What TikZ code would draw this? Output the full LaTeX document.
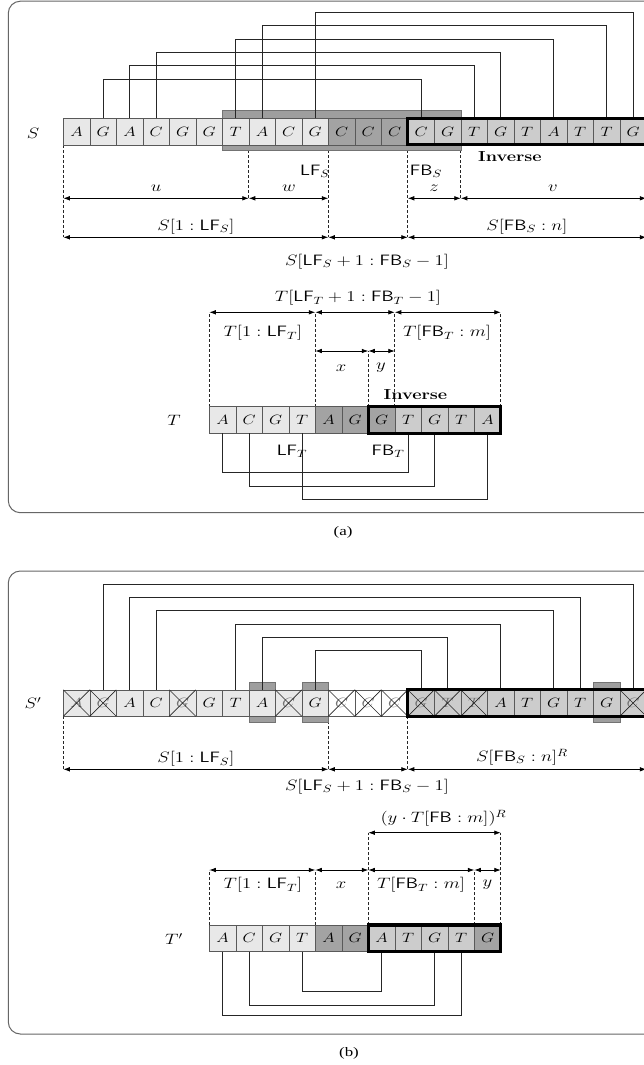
\RequirePackage{fix-cm}
\documentclass[tikz,border=0pt]{standalone}
\usepackage{fontspec}
\usepackage{graphicx}
\newfontfamily\capfont{Liberation Serif}
\usetikzlibrary{arrows.meta,fit}
\pgfdeclarelayer{bg}
\pgfsetlayers{bg,main}
\colorlet{cl}{black!9}
\colorlet{cm}{black!20}
\colorlet{cd}{black!36}
\colorlet{cwh}{white}
\colorlet{tn}{black}
\colorlet{tg}{black!55}
\newcommand{\hstr}[1]{\scalebox{1.25}[1]{#1}}
\begin{document}
\begin{tikzpicture}[x=1pt,y=-1pt,
  cellbase/.style={draw=black!65, line width=0.6pt, minimum width=26.5pt, minimum height=26.5pt, inner sep=0pt, outer sep=0pt, font=\fontsize{13.5}{13.5}\selectfont},
  conn/.style={draw=black!85, line width=0.75pt},
  xline/.style={draw=black!85, line width=0.6pt},
  guide/.style={draw=black!85, line width=0.65pt, dash pattern=on 3pt off 2pt},
  dim/.style={draw=black, line width=0.8pt, {Latex[length=6.5pt,width=4.6pt]}-{Latex[length=6.5pt,width=4.6pt]}},
  lab/.style={inner sep=0pt, font=\fontsize{15}{17}\selectfont},
  boldlab/.style={inner sep=0pt, font=\fontsize{14.5}{16}\selectfont\bfseries},
  caplab/.style={inner sep=0pt, font=\capfont\fontsize{13}{15}\selectfont},
  inv/.style={draw=black, line width=3.2pt, inner sep=0pt},
  frame/.style={draw=black!60, line width=1pt, rounded corners=12pt},
  shade/.style={draw=black!55, line width=0.6pt, fill=black!38},
]
\useasboundingbox (0,0) rectangle (644,1065);
\clip (0,0) rectangle (644,1065);
\begin{pgfonlayer}{bg}
  \fill[white] (0,0) rectangle (644,1065);
  \draw[frame] (8.3,1.2) rectangle (684,512.7);
  \draw[frame] (8.3,571) rectangle (684,1034);
\end{pgfonlayer}

% ================= panel (a) =================
\foreach \l/\c [count=\i] in {A/cl,G/cl,A/cl,C/cl,G/cl,G/cl,T/cl,A/cl,C/cl,G/cl,C/cd,C/cd,C/cd,C/cm,G/cm,T/cm,G/cm,T/cm,A/cm,T/cm,T/cm,G/cm}
  \node[cellbase, fill=\c] (s\i) at ({63.3+(\i-0.5)*26.5},131.55) {\hstr{$\l$}};

\foreach \l/\c [count=\i] in {A/cl,C/cl,G/cl,T/cl,A/cd,G/cd,G/cd,T/cm,G/cm,T/cm,A/cm}
  \node[cellbase, fill=\c] (t\i) at ({209.3+(\i-0.5)*26.5},419.95) {\hstr{$\l$}};

\coordinate (xa) at (s1.south west);
\coordinate (xb) at (s7.south east);
\coordinate (xc) at (s10.south east);
\coordinate (xd) at (s14.south west);
\coordinate (xe) at (s15.south east);
\coordinate (xf) at (s22.south east);
\coordinate (r1) at (0,198.3);
\coordinate (r2) at (0,237.3);
\coordinate (ovb) at (0,150.2);

\coordinate (ta) at (t1.north west);
\coordinate (tb) at (t4.north east);
\coordinate (tc) at (t6.north east);
\coordinate (td) at (t7.north east);
\coordinate (te) at (t11.north east);
\coordinate (rt1) at (0,312.3);
\coordinate (rt2) at (0,351);

\begin{pgfonlayer}{bg}
  \draw[guide] (xa) -- (xa |- r2);
  \draw[guide] (xb |- ovb) -- (xb |- r1);
  \draw[guide] (xc |- ovb) -- (xc |- r2);
  \draw[guide] (xd |- ovb) -- (xd |- r2);
  \draw[guide] (xe |- ovb) -- (xe |- r1);
  \draw[guide] (xf) -- (xf |- r2);
  \draw[shade] ([yshift=7.8pt]s7.north west) rectangle ([yshift=-5.4pt]s15.south east);
  \draw[guide] (ta) -- (ta |- rt1);
  \draw[guide] (tb) -- (tb |- rt1);
  \draw[guide] (tc) -- (tc |- rt2);
  \draw[guide] (td) -- (td |- rt1);
  \draw[guide] (te) -- (te |- rt1);
\end{pgfonlayer}

\foreach \a/\b/\h in {2/14/79, 3/16/65.7, 4/17/52.3, 7/19/39, 8/21/25.7, 10/22/12.3}
  \draw[conn] (s\a.north) -- (s\a.north |- 0,\h) -- (s\b.north |- 0,\h) -- (s\b.north);
\foreach \a/\b/\h in {1/8/472.3, 2/9/486, 4/11/499.3}
  \draw[conn] (t\a.south) -- (t\a.south |- 0,\h) -- (t\b.south |- 0,\h) -- (t\b.south);

\node[inv, fit=(s14)(s22)] (sinv) {};
\node[inv, fit=(t7)(t11)] (tinv) {};

\draw[dim] (xa |- r1) -- (xb |- r1);
\draw[dim] (xb |- r1) -- (xc |- r1);
\draw[dim] (xd |- r1) -- (xe |- r1);
\draw[dim] (xe |- r1) -- (xf |- r1);
\draw[dim] (xa |- r2) -- (xc |- r2);
\draw[dim] (xc |- r2) -- (xd |- r2);
\draw[dim] (xd |- r2) -- (xf |- r2);

\draw[dim] (ta |- rt1) -- (tb |- rt1);
\draw[dim] (tb |- rt1) -- (td |- rt1);
\draw[dim] (td |- rt1) -- (te |- rt1);
\draw[dim] (tb |- rt2) -- (tc |- rt2);
\draw[dim] (tc |- rt2) -- (td |- rt2);

\node[lab] (labS) at (33,133) {\hstr{$S$}};
\node[lab] (lfS) at (315,171) {\hstr{$\mathsf{LF}_S$}};
\node[lab] (fbS) at (426,171) {\hstr{$\mathsf{FB}_S$}};
\node[boldlab] (invS) at (510,156.5) {\hstr{Inverse}};
\node[lab] (lu) at (156,188) {\hstr{$u$}};
\node[lab] (lw) at (289,188) {\hstr{$w$}};
\node[lab] (lz) at (434,188) {\hstr{$z$}};
\node[lab] (lv) at (553,188) {\hstr{$v$}};
\node[lab] (sl1) at (196,226.7) {\hstr{$S[1:\mathsf{LF}_S]$}};
\node[lab] (sl2) at (527,226.7) {\hstr{$S[\mathsf{FB}_S:n]$}};
\node[lab] (sl3) at (367,261.7) {\hstr{$S[\mathsf{LF}_S+1:\mathsf{FB}_S-1]$}};

\node[lab] (tl0) at (358,298) {\hstr{$T[\mathsf{LF}_T+1:\mathsf{FB}_T-1]$}};
\node[lab] (tl1) at (263,333) {\hstr{$T[1:\mathsf{LF}_T]$}};
\node[lab] (tl2) at (447,333) {\hstr{$T[\mathsf{FB}_T:m]$}};
\node[lab] (lx) at (341,368) {\hstr{$x$}};
\node[lab] (ly) at (381,368) {\hstr{$y$}};
\node[boldlab] (invT) at (415.5,395) {\hstr{Inverse}};
\node[lab] (labT) at (174,420) {\hstr{$T$}};
\node[lab] (lfT) at (292,451) {\hstr{$\mathsf{LF}_T$}};
\node[lab] (fbT) at (388,451) {\hstr{$\mathsf{FB}_T$}};

\node[caplab] (capa) at (343,532) {\scalebox{1.3}[1]{(a)}};

% ================= panel (b) =================
\foreach \l/\c/\k [count=\i] in {A/cl/tg,G/cl/tg,A/cl/tn,C/cl/tn,G/cl/tg,G/cl/tn,T/cl/tn,A/cl/tn,C/cl/tg,G/cl/tn,C/cwh/tg,C/cwh/tg,C/cwh/tg,G/cm/tg,T/cm/tg,T/cm/tg,A/cm/tn,T/cm/tn,G/cm/tn,T/cm/tn,G/cm/tn,C/cm/tg}
  \node[cellbase, fill=\c, text=\k] (p\i) at ({63.3+(\i-0.5)*26.5},703.05) {\hstr{$\l$}};

\foreach \l/\c [count=\i] in {A/cl,C/cl,G/cl,T/cl,A/cd,G/cd,A/cm,T/cm,G/cm,T/cm,G/cd}
  \node[cellbase, fill=\c] (q\i) at ({209.3+(\i-0.5)*26.5},938.25) {\hstr{$\l$}};

\foreach \i in {1,2,5,9,11,12,13,14,15,16,22}
  \draw[xline] (p\i.north west) -- (p\i.south east) (p\i.north east) -- (p\i.south west);

\coordinate (pa) at (p1.south west);
\coordinate (pc) at (p10.south east);
\coordinate (pd) at (p14.south west);
\coordinate (pf) at (p22.south east);
\coordinate (rp) at (0,769.3);

\coordinate (qa) at (q1.north west);
\coordinate (qb) at (q4.north east);
\coordinate (qc) at (q6.north east);
\coordinate (qd) at (q10.north east);
\coordinate (qe) at (q11.north east);
\coordinate (rq1) at (0,832.7);
\coordinate (rq2) at (0,870);

\begin{pgfonlayer}{bg}
  \draw[guide] (pa) -- (pa |- rp);
  \draw[guide] (pc) -- (pc |- rp);
  \draw[guide] (pd) -- (pd |- rp);
  \draw[guide] (pf) -- (pf |- rp);
  \foreach \i in {8,10,21}
    \draw[shade] ([yshift=8pt]p\i.north west) rectangle ([yshift=-6pt]p\i.south east);
  \draw[guide] (qa) -- (qa |- rq2);
  \draw[guide] (qb) -- (qb |- rq2);
  \draw[guide] (qc) -- (qc |- rq1);
  \draw[guide] (qd) -- (qd |- rq2);
  \draw[guide] (qe) -- (qe |- rq1);
\end{pgfonlayer}

\foreach \a/\b/\h in {2/22/584, 3/20/597.3, 4/19/610.7, 7/17/624, 8/15/637.3, 10/14/650}
  \draw[conn] (p\a.north) -- (p\a.north |- 0,\h) -- (p\b.north |- 0,\h) -- (p\b.north);
\foreach \a/\b/\h in {4/7/991.7, 2/9/1005, 1/10/1015}
  \draw[conn] (q\a.south) -- (q\a.south |- 0,\h) -- (q\b.south |- 0,\h) -- (q\b.south);

\node[inv, fit=(p14)(p22)] (pinv) {};
\node[inv, fit=(q7)(q11)] (qinv) {};

\draw[dim] (pa |- rp) -- (pc |- rp);
\draw[dim] (pc |- rp) -- (pd |- rp);
\draw[dim] (pd |- rp) -- (pf |- rp);

\draw[dim] (qc |- rq1) -- (qe |- rq1);
\draw[dim] (qa |- rq2) -- (qb |- rq2);
\draw[dim] (qb |- rq2) -- (qc |- rq2);
\draw[dim] (qc |- rq2) -- (qd |- rq2);
\draw[dim] (qd |- rq2) -- (qe |- rq2);

\node[lab] (labSp) at (33,703) {\hstr{$S'$}};
\node[lab] (pl1) at (196,759) {\hstr{$S[1:\mathsf{LF}_S]$}};
\node[lab] (pl2) at (522,757) {\hstr{$S[\mathsf{FB}_S:n]^R$}};
\node[lab] (pl3) at (367,786.7) {\hstr{$S[\mathsf{LF}_S+1:\mathsf{FB}_S-1]$}};
\node[lab] (ql0) at (443.5,818.3) {\hstr{$(y\cdot T[\mathsf{FB}:m])^R$}};
\node[lab] (ql1) at (263,885) {\hstr{$T[1:\mathsf{LF}_T]$}};
\node[lab] (qlx) at (341,885) {\hstr{$x$}};
\node[lab] (ql2) at (421,885) {\hstr{$T[\mathsf{FB}_T:m]$}};
\node[lab] (qly) at (487.5,885) {\hstr{$y$}};
\node[lab] (labTp) at (174,939) {\hstr{$T'$}};

\node[caplab] (capb) at (349,1053) {\scalebox{1.3}[1]{(b)}};
\end{tikzpicture}
\end{document}
